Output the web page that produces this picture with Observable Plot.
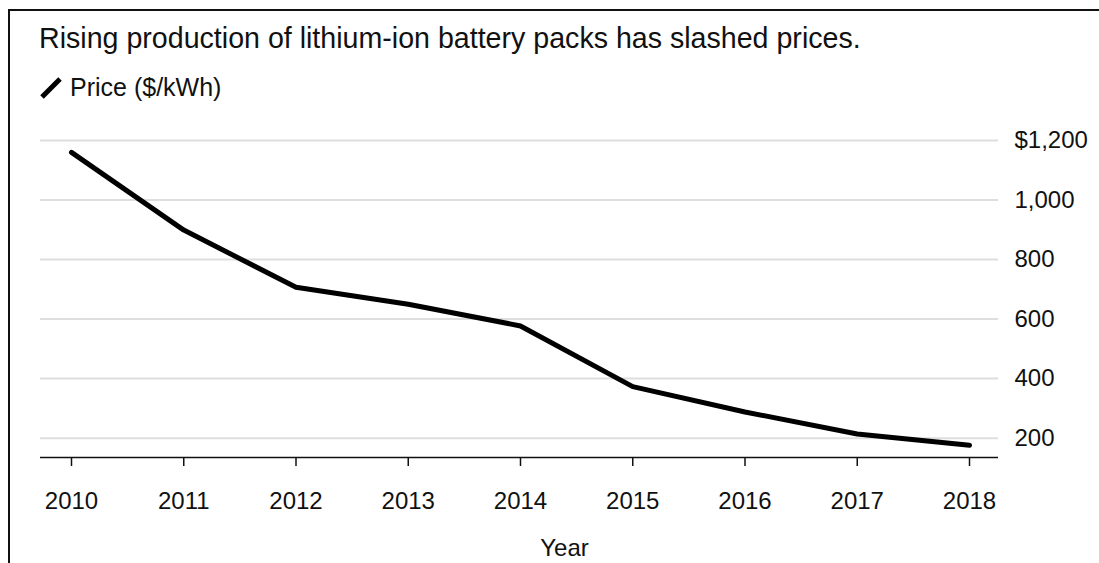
<!DOCTYPE html>
<html>
<head>
<meta charset="utf-8">
<script src="https://cdn.jsdelivr.net/npm/d3@7"></script>
<script src="https://cdn.jsdelivr.net/npm/@observablehq/plot@0.6"></script>
<style>
  html, body { margin: 0; padding: 0; background: #fff; overflow: hidden; }
  body { width: 1099px; height: 563px; position: relative; font-family: "Liberation Sans", Arial, Helvetica, sans-serif; color: #111; }
  #box { position: absolute; left: 8px; top: 9px; width: 1120px; height: 600px; border-left: 2px solid #111; border-top: 2px solid #111; }
  #title { position: absolute; left: 39px; top: 24px; font-size: 28.6px; line-height: 1; white-space: nowrap; }
  #legend { position: absolute; left: 40px; top: 75px; font-size: 25px; line-height: 1; white-space: nowrap; display: flex; align-items: center; }
  #legend svg { margin-right: 8px; }
  #chart { position: absolute; left: 0; top: 110px; }
</style>
</head>
<body>
<div id="box"></div>
<div id="title">Rising production of lithium-ion battery packs has slashed prices.</div>
<div id="legend"><svg width="22" height="22"><line x1="2" y1="20" x2="20" y2="2" stroke="#000" stroke-width="5"/></svg><span>Price ($/kWh)</span></div>
<div id="chart"></div>
<script>
const years = [2010, 2011, 2012, 2013, 2014, 2015, 2016, 2017, 2018];
const prices = [1160, 899, 707, 650, 577, 373, 288, 214, 176];
const yTicks = [200, 400, 600, 800, 1000, 1200];
const seriesName = "Price ($/kWh)";
const xLabel = "Year";

const data = years.map((year, i) => ({year, price: prices[i]}));

const chart = Plot.plot({
  width: 1099,
  height: 453,
  marginLeft: 40,
  marginRight: 101,
  marginTop: 30,
  marginBottom: 106,
  style: {fontFamily: "'Liberation Sans', Arial, Helvetica, sans-serif", fontSize: "24px", color: "#111", background: "transparent"},
  x: {domain: [2010, 2018], insetLeft: 31, insetRight: 29},
  y: {domain: [135, 1200]},
  marks: [
    Plot.ruleY(yTicks, {stroke: "#dedede", strokeWidth: 2}),
    Plot.ruleY([135], {stroke: "#111", strokeWidth: 1.5}),
    Plot.axisX({ticks: years, tickFormat: d => String(d), tickSize: 9, tickPadding: 25, label: null, stroke: "#111", strokeWidth: 1.5, fontSize: 24}),
    Plot.axisY({anchor: "right", ticks: yTicks, tickSize: 0, tickPadding: 16, label: null, fontSize: 24,
      tickFormat: d => d === 1200 ? "$" + d3.format(",")(d) : d3.format(",")(d)}),
    Plot.line(data, {x: "year", y: "price", stroke: "#000", strokeWidth: 5}),
    Plot.text([xLabel], {frameAnchor: "bottom", dx: 45, dy: 98, fontSize: 24, fill: "#111"})
  ]
});
document.getElementById("chart").appendChild(chart);
</script>
</body>
</html>
